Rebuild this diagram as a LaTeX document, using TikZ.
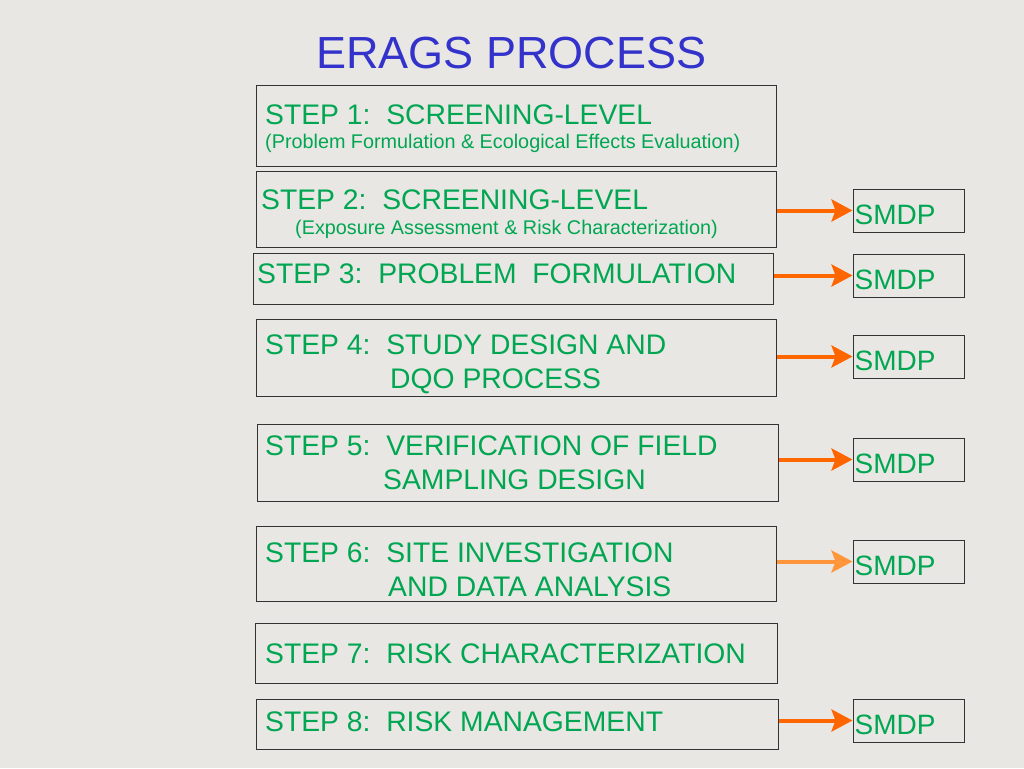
\documentclass[tikz,border=0pt]{standalone}
\usepackage{fontspec}
\setmainfont{Liberation Sans}
\usetikzlibrary{arrows.meta, positioning}

\definecolor{stepgreen}{RGB}{0,166,81}
\definecolor{titleblue}{RGB}{51,51,204}
\definecolor{flowred}{RGB}{255,102,0}
\definecolor{flowlight}{RGB}{255,150,60}
\definecolor{paper}{RGB}{233,231,227}

\tikzset{
    stepbox/.style={draw=black!80, line width=1pt, inner sep=0pt, minimum width=520pt},
    smdpbox/.style={draw=black!80, line width=1pt, inner sep=0pt, minimum width=111pt, minimum height=43pt},
    steptext/.style={anchor=base west, inner sep=0pt, text=stepgreen, font=\fontsize{28.3}{28}\selectfont},
    subtext/.style={anchor=base west, inner sep=0pt, text=stepgreen, font=\fontsize{19.8}{20}\selectfont},
    flow/.style={-{Stealth[length=21pt, width=22pt, inset=4pt]}, line width=4pt, draw=flowred},
}

\begin{document}
\begin{tikzpicture}[x=1pt, y=-1pt]
        \fill[paper] (0,0) rectangle (1024,768);
        \useasboundingbox (0,0) rectangle (1024,768);

        \node[anchor=base, inner sep=0pt, text=titleblue, font=\fontsize{45}{45}\selectfont]
            (title) at (511.5,68) {ERAGS PROCESS};

        % step boxes
        \node[stepbox, minimum height=81pt] (s1) at (516,125.5) {};
        \node[stepbox, minimum height=76pt] (s2) at (516,209) {};
        \node[stepbox, minimum height=51pt] (s3) at (513,278.5) {};
        \node[stepbox, minimum height=77pt] (s4) at (516,357.5) {};
        \node[stepbox, minimum height=77pt, minimum width=521pt] (s5) at (517.5,462.5) {};
        \node[stepbox, minimum height=75pt] (s6) at (516,563.5) {};
        \node[stepbox, minimum height=60pt, minimum width=522pt] (s7) at (516,653) {};
        \node[stepbox, minimum height=50pt, minimum width=522pt] (s8) at (517,724) {};

        \node[steptext] (t1)  at (265,124) {STEP 1:\ \ SCREENING-LEVEL};
        \node[subtext]  (t1b) at (265,148) {(Problem Formulation \& Ecological Effects Evaluation)};
        \node[steptext] (t2)  at (261,209) {STEP 2:\ \ SCREENING-LEVEL};
        \node[subtext]  (t2b) at (295,234) {(Exposure Assessment \& Risk Characterization)};
        \node[steptext] (t3)  at (257,283) {STEP 3:\ \ PROBLEM\ \ FORMULATION};
        \node[steptext] (t4)  at (265,354) {STEP 4:\ \ STUDY DESIGN AND};
        \node[steptext] (t4b) at (390,388) {DQO PROCESS};
        \node[steptext] (t5)  at (265,455) {STEP 5:\ \ VERIFICATION OF FIELD};
        \node[steptext] (t5b) at (383,489) {SAMPLING DESIGN};
        \node[steptext] (t6)  at (265,562) {STEP 6:\ \ SITE INVESTIGATION};
        \node[steptext] (t6b) at (388,596) {AND DATA ANALYSIS};
        \node[steptext] (t7)  at (265,663) {STEP 7:\ \ RISK CHARACTERIZATION};
        \node[steptext] (t8)  at (265,731) {STEP 8:\ \ RISK MANAGEMENT};

        % smdp boxes
        \node[smdpbox] (m2) at (908.5,210.5) {};
        \node[smdpbox] (m3) at (908.5,275.5) {};
        \node[smdpbox] (m4) at (908.5,356.5) {};
        \node[smdpbox] (m5) at (908.5,459.5) {};
        \node[smdpbox] (m6) at (908.5,561.5) {};
        \node[smdpbox] (m8) at (908.5,720.5) {};

        \foreach \m in {2,3,4,5,6,8}
            \node[steptext, font=\fontsize{28}{28}\selectfont] (m\m t) at ([xshift=2pt, yshift=-13.5pt]m\m.west) {SMDP};

        \draw[flow] (s2.east |- m2.west) -- (m2.west);
        \draw[flow] (s3.east |- m3.west) -- (m3.west);
        \draw[flow] (s4.east |- m4.west) -- (m4.west);
        \draw[flow] (s5.east |- m5.west) -- (m5.west);
        \draw[flow, draw=flowlight] (s6.east |- m6.west) -- (m6.west);
        \draw[flow] (s8.east |- m8.west) -- (m8.west);
\end{tikzpicture}
\end{document}
